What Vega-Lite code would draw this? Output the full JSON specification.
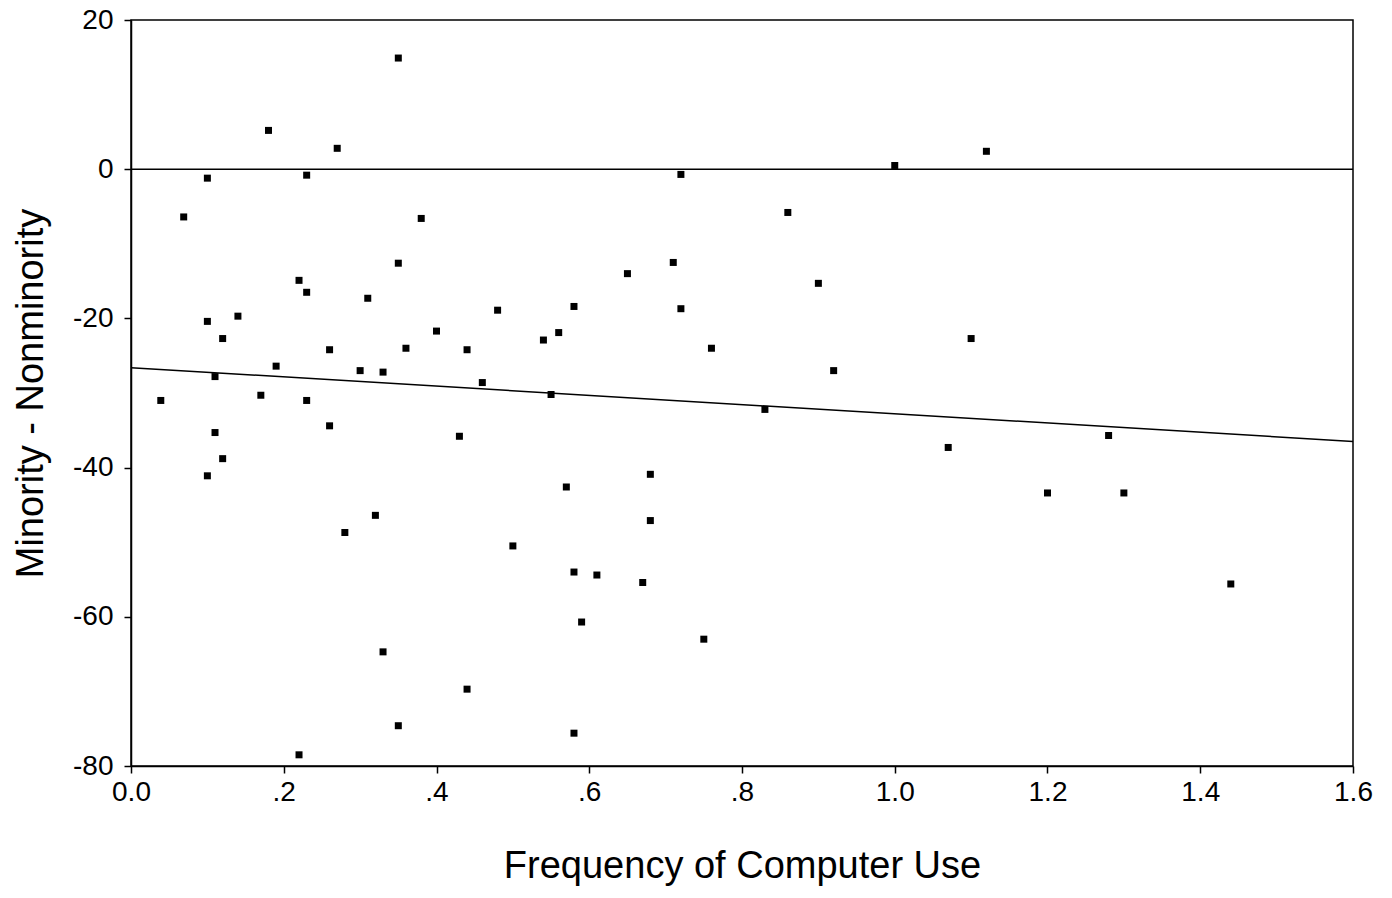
{
  "$schema": "https://vega.github.io/schema/vega-lite/v6.json",
  "width": 1222,
  "height": 746,
  "autosize": {"type": "none"},
  "padding": {"left": 131, "top": 20, "right": 39, "bottom": 132},
  "background": "white",
  "config": {
    "font": "Liberation Sans",
    "view": {"stroke": "black", "strokeWidth": 1.5},
    "axis": {
      "grid": false,
      "domainColor": "black",
      "domainWidth": 1.5,
      "tickColor": "black",
      "tickWidth": 1.5,
      "tickSize": 7,
      "labelColor": "black",
      "labelFontSize": 28,
      "labelFont": "Liberation Sans",
      "titleColor": "black",
      "titleFontSize": 38,
      "titleFontWeight": "normal",
      "titleFont": "Liberation Sans"
    }
  },
  "datasets": {
    "pts": [
      {"freq": 0.039, "diff": -31.0},
      {"freq": 0.069, "diff": -6.4},
      {"freq": 0.10, "diff": -1.2},
      {"freq": 0.10, "diff": -20.4},
      {"freq": 0.10, "diff": -41.1},
      {"freq": 0.11, "diff": -27.8},
      {"freq": 0.11, "diff": -35.3},
      {"freq": 0.12, "diff": -22.7},
      {"freq": 0.12, "diff": -38.8},
      {"freq": 0.14, "diff": -19.7},
      {"freq": 0.17, "diff": -30.3},
      {"freq": 0.18, "diff": 5.2},
      {"freq": 0.19, "diff": -26.4},
      {"freq": 0.22, "diff": -14.9},
      {"freq": 0.22, "diff": -78.5},
      {"freq": 0.23, "diff": -0.8},
      {"freq": 0.23, "diff": -16.5},
      {"freq": 0.23, "diff": -31.0},
      {"freq": 0.26, "diff": -24.2},
      {"freq": 0.26, "diff": -34.4},
      {"freq": 0.27, "diff": 2.8},
      {"freq": 0.28, "diff": -48.7},
      {"freq": 0.30, "diff": -27.0},
      {"freq": 0.31, "diff": -17.3},
      {"freq": 0.32, "diff": -46.4},
      {"freq": 0.33, "diff": -27.2},
      {"freq": 0.33, "diff": -64.7},
      {"freq": 0.35, "diff": 14.9},
      {"freq": 0.35, "diff": -12.6},
      {"freq": 0.35, "diff": -74.6},
      {"freq": 0.36, "diff": -24.0},
      {"freq": 0.38, "diff": -6.6},
      {"freq": 0.40, "diff": -21.7},
      {"freq": 0.43, "diff": -35.8},
      {"freq": 0.44, "diff": -24.2},
      {"freq": 0.44, "diff": -69.7},
      {"freq": 0.46, "diff": -28.6},
      {"freq": 0.48, "diff": -18.9},
      {"freq": 0.50, "diff": -50.5},
      {"freq": 0.54, "diff": -22.9},
      {"freq": 0.55, "diff": -30.2},
      {"freq": 0.56, "diff": -21.9},
      {"freq": 0.57, "diff": -42.6},
      {"freq": 0.58, "diff": -18.4},
      {"freq": 0.58, "diff": -54.0},
      {"freq": 0.58, "diff": -75.6},
      {"freq": 0.59, "diff": -60.7},
      {"freq": 0.61, "diff": -54.4},
      {"freq": 0.65, "diff": -14.0},
      {"freq": 0.67, "diff": -55.4},
      {"freq": 0.68, "diff": -40.9},
      {"freq": 0.68, "diff": -47.1},
      {"freq": 0.71, "diff": -12.5},
      {"freq": 0.72, "diff": -0.7},
      {"freq": 0.72, "diff": -18.7},
      {"freq": 0.75, "diff": -63.0},
      {"freq": 0.76, "diff": -24.0},
      {"freq": 0.83, "diff": -32.2},
      {"freq": 0.86, "diff": -5.8},
      {"freq": 0.90, "diff": -15.3},
      {"freq": 0.92, "diff": -27.0},
      {"freq": 1.00, "diff": 0.5},
      {"freq": 1.07, "diff": -37.3},
      {"freq": 1.10, "diff": -22.7},
      {"freq": 1.12, "diff": 2.4},
      {"freq": 1.20, "diff": -43.4},
      {"freq": 1.28, "diff": -35.7},
      {"freq": 1.30, "diff": -43.4},
      {"freq": 1.44, "diff": -55.6}
    ],
    "fit": [
      {"freq": 0.0, "diff": -26.6},
      {"freq": 1.6, "diff": -36.5}
    ]
  },
  "encoding": {
    "x": {
      "field": "freq",
      "type": "quantitative",
      "scale": {"domain": [0, 1.6], "nice": false, "zero": false},
      "axis": {
        "title": "Frequency of Computer Use",
        "values": [0, 0.2, 0.4, 0.6, 0.8, 1.0, 1.2, 1.4, 1.6],
        "labelExpr": "datum.value > 0.01 && datum.value < 0.99 ? replace(format(datum.value, '.1f'), '0.', '.') : format(datum.value, '.1f')",
        "labelPadding": 5,
        "labelFlush": false,
        "labelOverlap": false,
        "titlePadding": 41
      }
    },
    "y": {
      "field": "diff",
      "type": "quantitative",
      "scale": {"domain": [-80, 20], "nice": false, "zero": false},
      "axis": {
        "title": "Minority - Nonminority",
        "values": [-80, -60, -40, -20, 0, 20],
        "labelExpr": "(datum.value < 0 ? '-' : '') + abs(datum.value)",
        "labelPadding": 11,
        "labelFlush": false,
        "labelOverlap": false,
        "titlePadding": 22
      }
    }
  },
  "layer": [
    {
      "data": {"name": "pts"},
      "mark": {"type": "point", "shape": "square", "filled": true, "color": "black", "size": 49, "opacity": 1}
    },
    {
      "data": {"name": "fit"},
      "mark": {"type": "line", "color": "black", "strokeWidth": 1.5}
    },
    {
      "data": {"values": [{"zero": 0}]},
      "mark": {"type": "rule", "color": "black", "strokeWidth": 1.5},
      "encoding": {"y": {"field": "zero", "type": "quantitative"}, "x": null}
    }
  ]
}
